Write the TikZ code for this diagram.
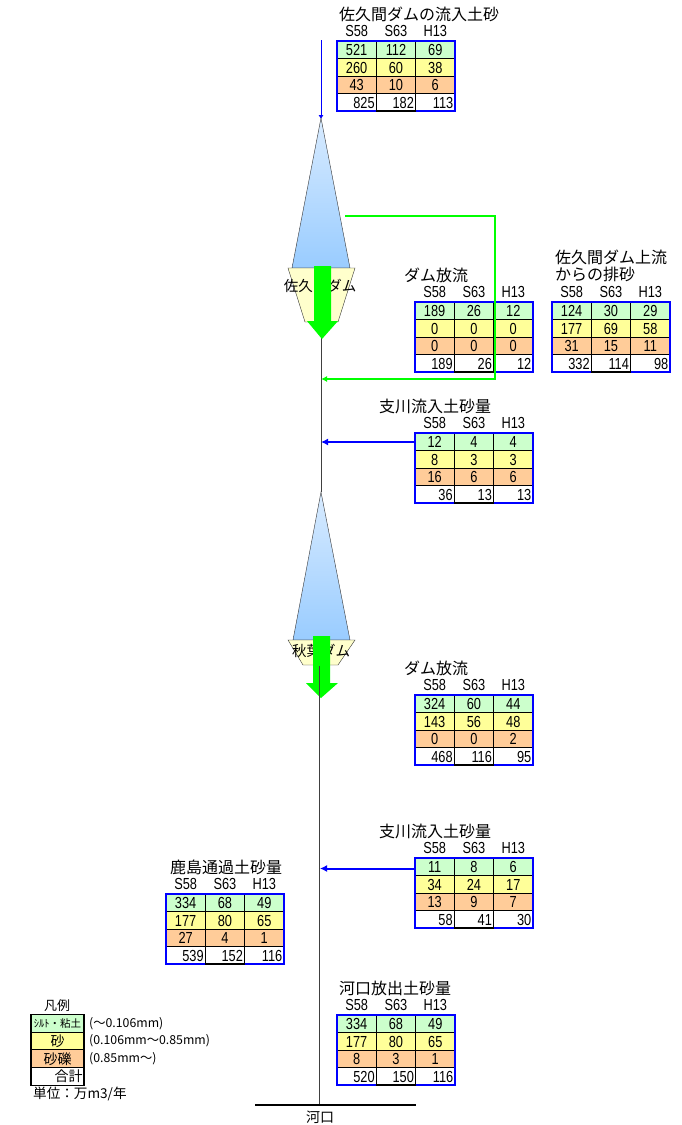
\documentclass[tikz,border=0pt]{standalone}
\usepackage{xcolor}
\usepackage{fontspec}
\setmainfont[FakeStretch=0.8]{Liberation Sans}
\newfontfamily\cjk{Noto Sans CJK JP}
\usetikzlibrary{arrows.meta}
\definecolor{siltgreen}{HTML}{CCFFCC}
\definecolor{sandyellow}{HTML}{FFFF99}
\definecolor{gravelorange}{HTML}{FFCC99}
\definecolor{damyellow}{HTML}{FFFFCC}
\definecolor{lakeblue}{HTML}{99CCFF}
\definecolor{lakepale}{HTML}{D8EBFF}
\definecolor{flowgreen}{HTML}{00FF00}
\definecolor{tableblue}{HTML}{0000FF}
\tikzset{
  cell/.style={minimum width=39.3pt, minimum height=17.5pt, inner sep=0pt, outer sep=0pt, draw=black, line width=0.8pt, text height=11.5pt, text depth=0pt},
  totalcell/.style={cell, fill=white, text width=36pt, align=right},
  hdr/.style={inner sep=0pt, text height=11.5pt, text depth=0pt},
  tabletitle/.style={anchor=west, inner sep=0pt, font=\cjk\fontsize{16}{17.5}\selectfont, align=left},
  keycell/.style={minimum width=53pt, minimum height=17.75pt, inner sep=0pt, outer sep=0pt, draw=black, line width=0.8pt},
  keynote/.style={anchor=west, inner sep=0pt, font=\cjk\fontsize{12.3}{14}\selectfont},
  river/.style={black!75, line width=1pt},
  inflow/.style={tableblue, line width=2pt, -{Latex[length=7pt,width=7pt]}},
  damlabel/.style={inner sep=0pt, font=\cjk\fontsize{14.5}{16}\selectfont}
}
\newcommand{\sandrow}[6]{%
  \foreach \v [count=\i from 0] in {#6}
    \node[#5] (#1-#4-\i) at (#2+19.65+39.3*\i, #3+8.75+17.5*#4) {\v};
}
\newcommand{\sandtable}[7]{%
  \foreach \v [count=\i from 0] in {S58,S63,H13}
    \node[hdr] (#1-h\i) at (#2+19.65+39.3*\i, #3-10) {\v};
  \sandrow{#1}{#2}{#3}{0}{cell, fill=siltgreen}{#4}
  \sandrow{#1}{#2}{#3}{1}{cell, fill=sandyellow}{#5}
  \sandrow{#1}{#2}{#3}{2}{cell, fill=gravelorange}{#6}
  \sandrow{#1}{#2}{#3}{3}{totalcell}{#7}
  \draw[line width=1.4pt] (#1-3-0.north west) -- (#1-3-2.north east);
  \draw[tableblue, line width=1.2pt] (#1-0-0.north west) rectangle (#1-3-2.south east);
  \draw[line width=1.2pt] (#1-3-1.south west) -- (#1-3-1.south east);
}
\begin{document}
\begin{tikzpicture}[x=1pt, y=-1pt, >=Latex, font=\fontsize{16}{18}\selectfont]
  \useasboundingbox[fill=white] (0,0) rectangle (681,1125);

  \coordinate (sakumaTop) at (321,40);
  \coordinate (sakumaApex) at (321,119);
  \draw[tableblue, -{Latex[length=4pt,width=5pt]}] (sakumaTop) -- (sakumaApex);
  \coordinate (sakumaOut) at (321,338);
  \coordinate (akibaApex) at (321,492);
  \draw[river] (sakumaOut) -- (akibaApex);

  \draw[black!80, top color=lakepale, bottom color=lakeblue] (321,118) -- (350,268) -- (292,268) -- cycle;
  \draw[black!80, fill=damyellow] (288,268) -- (355,268) -- (338,322) -- (305,322) -- cycle;
  \node[damlabel] (sakumaDam) at (320,286) {佐久間ダム};
  \fill[flowgreen] (314,266) -- (331,266) -- (331,321) -- (338,321) -- (322,339) -- (307,321) -- (314,321) -- cycle;

  \draw[black!80, top color=lakepale, bottom color=lakeblue] (321,492) -- (350,640) -- (293,640) -- cycle;
  \draw[black!80, fill=damyellow] (288,640) -- (355,640) -- (338,665) -- (303,665) -- cycle;
  \node[damlabel] (akibaDam) at (321,651) {秋葉ダム};
  \fill[flowgreen] (313,636) -- (330,636) -- (330,683) -- (338,683) -- (321,698) -- (306,683) -- (313,683) -- cycle;

  \coordinate (akibaOut) at (319,666);
  \coordinate (mouth) at (319,1105);
  \draw[river] (akibaOut) -- (mouth);
  \coordinate (mouthLeft) at (255,1105);
  \coordinate (mouthRight) at (416,1105);
  \draw[line width=1.4pt] (mouthLeft) -- (mouthRight);
  \node[damlabel, font=\cjk\fontsize{14}{16}\selectfont] (mouthLabel) at (320,1117) {河口};

  \node[tabletitle] (inflowTitle) at (339,14) {佐久間ダムの流入土砂};
  \sandtable{inflowTab}{337}{41}{521,112,69}{260,60,38}{43,10,6}{825,182,113}

  \node[tabletitle] (sakumaTitle) at (404,275) {ダム放流};
  \sandtable{sakumaTab}{415}{302}{189,26,12}{0,0,0}{0,0,0}{189,26,12}

  \node[tabletitle] (upperTitle) at (555,266) {佐久間ダム上流\\からの排砂};
  \sandtable{upperTab}{552}{302}{124,30,29}{177,69,58}{31,15,11}{332,114,98}

  \node[tabletitle] (tribATitle) at (379,406) {支川流入土砂量};
  \sandtable{tribATab}{415}{433}{12,4,4}{8,3,3}{16,6,6}{36,13,13}

  \node[tabletitle] (akibaTitle) at (404,668) {ダム放流};
  \sandtable{akibaTab}{415}{695}{324,60,44}{143,56,48}{0,0,2}{468,116,95}

  \node[tabletitle] (tribBTitle) at (379,831) {支川流入土砂量};
  \sandtable{tribBTab}{415}{858}{11,8,6}{34,24,17}{13,9,7}{58,41,30}

  \node[tabletitle] (kashimaTitle) at (170,867) {鹿島通過土砂量};
  \sandtable{kashimaTab}{166}{894}{334,68,49}{177,80,65}{27,4,1}{539,152,116}

  \node[tabletitle] (mouthTitle) at (339,988) {河口放出土砂量};
  \sandtable{mouthTab}{337}{1015}{334,68,49}{177,80,65}{8,3,1}{520,150,116}

  \coordinate (sakumaTake) at (345,216);
  \coordinate (sakumaBack) at (321,379);
  \draw[flowgreen, line width=1.8pt, -{Latex[length=6pt,width=6pt]}] (sakumaTake) -- (495,216) -- (495,379) -- (sakumaBack);
  \coordinate (tribAOut) at (415,442);
  \coordinate (tribAIn) at (321,442);
  \draw[inflow] (tribAOut) -- (tribAIn);
  \coordinate (tribBOut) at (415,868.5);
  \coordinate (tribBIn) at (320,868.5);
  \draw[inflow] (tribBOut) -- (tribBIn);

  \node[inner sep=0pt, font=\cjk\fontsize{13}{15}\selectfont] (keyTitle) at (57,1006) {凡例};
  \node[keycell, fill=siltgreen, font=\cjk\fontsize{10.5}{12}\selectfont] (keySilt) at (57.5,1023.5) {ｼﾙﾄ・粘土};
  \node[keycell, fill=sandyellow, font=\cjk\fontsize{14}{16}\selectfont] (keySand) at (57.5,1041) {砂};
  \node[keycell, fill=gravelorange, font=\cjk\fontsize{14}{16}\selectfont] (keyGravel) at (57.5,1058.75) {砂礫};
  \node[keycell, fill=white, font=\cjk\fontsize{14}{15}\selectfont, text width=50pt, align=right] (keyTotal) at (57.5,1076.5) {合計};
  \draw[line width=1.2pt] (keySilt.north west) rectangle (keyTotal.south east);
  \draw[line width=1.2pt] (keyTotal.north west) -- (keyTotal.north east);
  \node[keynote] (noteSilt) at (89,1024) {(～0.106mm)};
  \node[keynote] (noteSand) at (89,1041) {(0.106mm～0.85mm)};
  \node[keynote] (noteGravel) at (89,1059) {(0.85mm～)};
  \node[keynote, font=\cjk\fontsize{13.6}{15}\selectfont] (unitLabel) at (33,1094) {単位：万m3/年};
\end{tikzpicture}
\end{document}
